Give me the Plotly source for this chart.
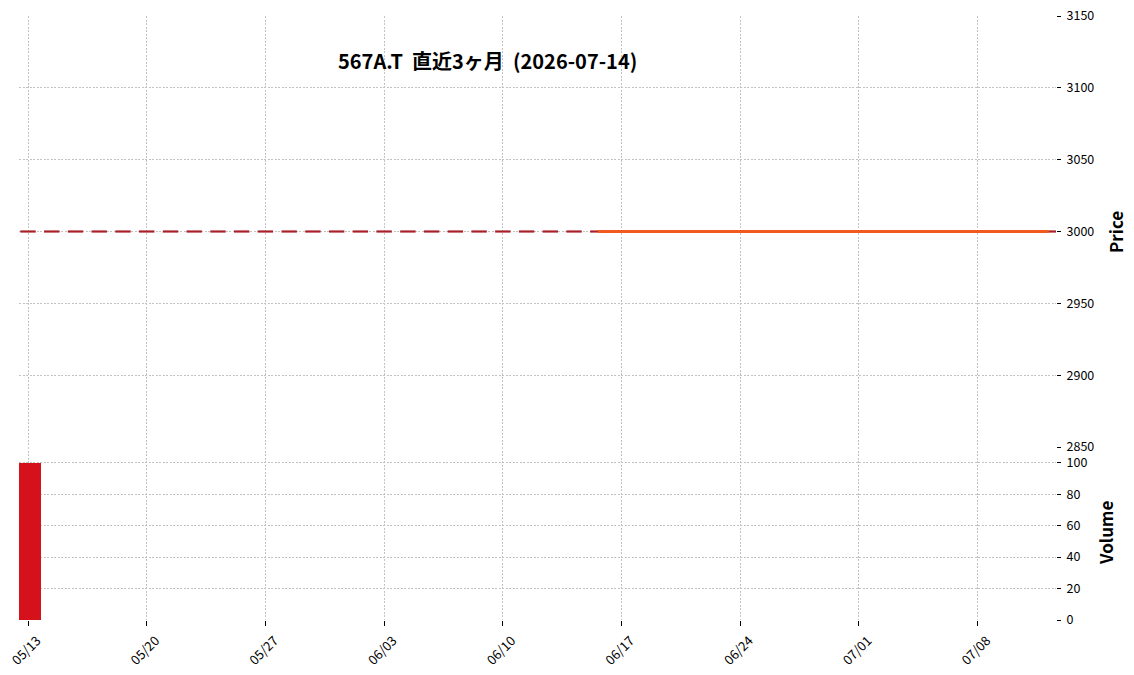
import plotly.graph_objects as go
import pandas as pd

dates = ["05/13", "05/14", "05/15", "05/18", "05/19", "05/20", "05/21", "05/22",
         "05/25", "05/26", "05/27", "05/28", "05/29", "06/01", "06/02", "06/03",
         "06/04", "06/05", "06/08", "06/09", "06/10", "06/11", "06/12", "06/15",
         "06/16", "06/17", "06/18", "06/19", "06/22", "06/23", "06/24", "06/25",
         "06/26", "06/29", "06/30", "07/01", "07/02", "07/03", "07/06", "07/07",
         "07/08", "07/09", "07/10", "07/13"]
close = [3000, 3000, 3000, 3000, 3000, 3000, 3000, 3000, 3000, 3000, 3000,
         3000, 3000, 3000, 3000, 3000, 3000, 3000, 3000, 3000, 3000, 3000,
         3000, 3000, 3000, 3000, 3000, 3000, 3000, 3000, 3000, 3000, 3000,
         3000, 3000, 3000, 3000, 3000, 3000, 3000, 3000, 3000, 3000, 3000]
volume = [100, 0, 0, 0, 0, 0, 0, 0, 0, 0, 0, 0, 0, 0, 0, 0, 0, 0, 0, 0, 0, 0,
          0, 0, 0, 0, 0, 0, 0, 0, 0, 0, 0, 0, 0, 0, 0, 0, 0, 0, 0, 0, 0, 0]
price_ticks = [2850, 2900, 2950, 3000, 3050, 3100, 3150]
volume_ticks = [0, 20, 40, 60, 80, 100]
title_text = "567A.T  直近3ヶ月  (2026-07-14)"

idx = list(range(len(dates)))
ma25 = pd.Series(close).rolling(25).mean().tolist()
tick_idx = [i for i in idx if i % 5 == 0]
tick_txt = [dates[i] for i in tick_idx]

FONT = "Noto Sans CJK JP"
GRID = "#c2c2c2"
GDASH = "2px,1.5px"

L, R, T, B = 19, 78, 16, 55
PW = 1134 - L - R
PH = 675 - T - B


def px_x(px):
    return (px - L) / PW


def px_y(py):
    return (675 - B - py) / PH


fig = go.Figure()
# doji candles (open == close)
fig.add_trace(go.Scatter(
    x=idx, y=close, mode="markers",
    marker=dict(symbol="line-ew", size=11, line=dict(width=2.2, color="#a8202a")),
    xaxis="x", yaxis="y", showlegend=False, hoverinfo="skip"))
# 25-day moving average
fig.add_trace(go.Scatter(
    x=idx, y=ma25, mode="lines",
    line=dict(color="#f05a1e", width=3),
    xaxis="x", yaxis="y", showlegend=False))
# volume
fig.add_trace(go.Bar(
    x=idx, y=volume, width=1.1, marker=dict(color="#d5111b", line=dict(width=0)),
    xaxis="x2", yaxis="y2", showlegend=False))

xrange = [-0.38, 43.3]
common_x = dict(range=xrange, tickmode="array", tickvals=tick_idx, automargin=False,
                showgrid=True, gridcolor=GRID, griddash=GDASH, gridwidth=0.7,
                zeroline=False, showline=False)
common_y = dict(side="right", tickmode="array", automargin=False,
                ticks="outside", ticklen=4, tickcolor="black", tickwidth=1,
                ticklabelstandoff=3,
                showgrid=True, gridcolor=GRID, griddash=GDASH, gridwidth=0.7,
                zeroline=False, showline=False, tickfont=dict(size=12.5))
fig.update_layout(
    width=1134, height=675,
    margin=dict(l=L, r=R, t=T, b=B, autoexpand=False),
    paper_bgcolor="white", plot_bgcolor="white",
    font=dict(family=FONT, color="black", size=13),
    xaxis=dict(**common_x, anchor="y", showticklabels=False, ticks=""),
    xaxis2=dict(**common_x, anchor="y2", matches="x", ticktext=tick_txt,
                showticklabels=True, ticks="outside", ticklen=5, tickcolor="black",
                tickangle=-45, tickfont=dict(size=13), ticklabeloverflow="allow",
                ticklabelshift=9, ticklabelstandoff=2),
    yaxis=dict(**common_y, domain=[px_y(447), 1], range=[2850, 3150],
               anchor="x", tickvals=price_ticks),
    yaxis2=dict(**common_y, domain=[0, px_y(447)], range=[0, 110],
                anchor="x2", tickvals=volume_ticks),
    bargap=0,
)
fig.add_annotation(text="<b>" + title_text + "</b>", x=px_x(487.5), y=px_y(60),
                   xref="paper", yref="paper", showarrow=False,
                   font=dict(size=20, family=FONT), xanchor="center", yanchor="middle")
fig.add_annotation(text="<b>Price</b>", x=px_x(1115), y=px_y(232),
                   xref="paper", yref="paper", showarrow=False, textangle=-90,
                   xanchor="center", yanchor="middle",
                   font=dict(size=17, family=FONT))
fig.add_annotation(text="<b>Volume</b>", x=px_x(1105), y=px_y(533),
                   xref="paper", yref="paper", showarrow=False, textangle=-90,
                   xanchor="center", yanchor="middle",
                   font=dict(size=17, family=FONT))

fig.write_html("out.html")
